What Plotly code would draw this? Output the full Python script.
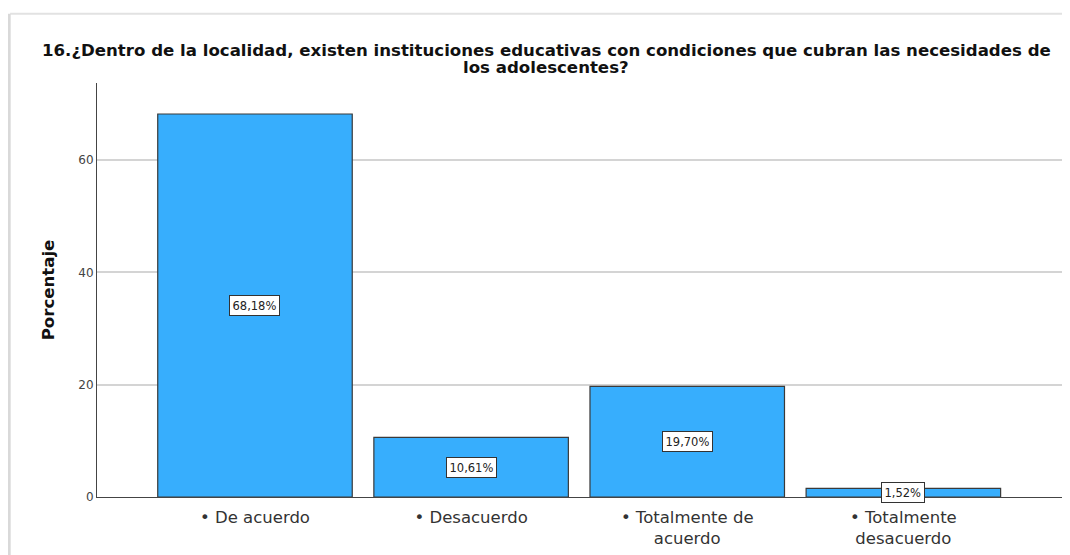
import plotly.graph_objects as go

categories = ["De acuerdo", "Desacuerdo", "Totalmente de<br>acuerdo", "Totalmente<br>desacuerdo"]
tick_labels = ["• De acuerdo", "• Desacuerdo", "• Totalmente de<br>acuerdo", "• Totalmente<br>desacuerdo"]
values = [68.18, 10.61, 19.70, 1.52]
value_labels = ["68,18%", "10,61%", "19,70%", "1,52%"]
y_ticks = [0, 20, 40, 60]
title_lines = [
    "16.¿Dentro de la localidad, existen instituciones educativas con condiciones que cubran las necesidades de",
    "los adolescentes?",
]

x_idx = list(range(len(categories)))
FONT = "DejaVu Sans, Arial, sans-serif"

fig = go.Figure()
fig.add_trace(go.Bar(
    x=x_idx, y=values, width=0.9,
    marker=dict(color="#37AEFD", line=dict(color="#3a3a3a", width=1.2)),
    hoverinfo="skip",
))

for i, (v, lab) in enumerate(zip(values, value_labels)):
    fig.add_annotation(
        x=i, y=v / 2, text=lab, showarrow=False,
        font=dict(family=FONT, size=11.5, color="#222"),
        bgcolor="white", bordercolor="#333", borderwidth=1, borderpad=2.5,
    )

# title (two lines, tight spacing)
for line, ypos in zip(title_lines, [1.0797, 1.0386]):
    fig.add_annotation(
        xref="paper", yref="paper", x=0.4653, y=ypos, xanchor="center", yanchor="middle",
        text="<b>" + line + "</b>", showarrow=False,
        font=dict(family=FONT, size=16.6, color="#111"),
    )

# image frame
fig.add_shape(type="line", xref="paper", yref="paper", x0=-0.090, x1=1.01, y0=1.167, y1=1.167,
              line=dict(color="#e2e2e2", width=2), layer="below")
fig.add_shape(type="line", xref="paper", yref="paper", x0=-0.091, x1=-0.091, y0=1.167, y1=-0.2,
              line=dict(color="#d9d9d9", width=3), layer="below")

fig.update_layout(
    width=1062, height=547,
    margin=dict(l=89, r=8, t=75, b=58, autoexpand=False),
    paper_bgcolor="white", plot_bgcolor="white",
    showlegend=False,
    xaxis=dict(
        tickmode="array", tickvals=x_idx, ticktext=tick_labels,
        range=[-0.731, 3.734], showgrid=False, zeroline=False, automargin=False,
        showline=True, linecolor="#444", linewidth=1, ticks="", ticklabelstandoff=5,
        tickfont=dict(family=FONT, size=16.5, color="#333"),
    ),
    yaxis=dict(
        range=[0, 73.7], tickmode="array", tickvals=y_ticks, automargin=False,
        showgrid=True, gridcolor="#d4d4d4", gridwidth=1.5, zeroline=False,
        showline=True, linecolor="#444", linewidth=1, ticks="",
        tickfont=dict(family=FONT, size=12, color="#444"),
        title=dict(text="<b>Porcentaje</b>", standoff=19,
                   font=dict(family=FONT, size=16.6, color="#111")),
    ),
)

fig.write_html("out.html")
